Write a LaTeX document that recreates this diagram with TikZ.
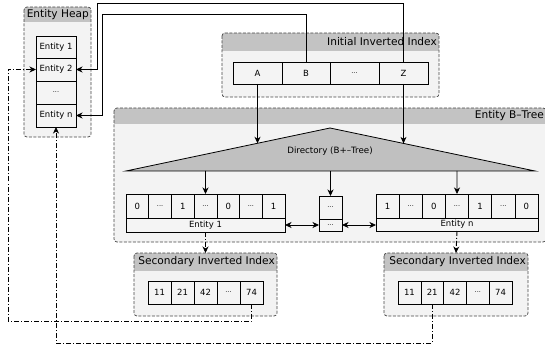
\documentclass[tikz,border=0pt]{standalone}
\usepackage{fontspec}
\setmainfont{DejaVu Sans}
\usetikzlibrary{arrows.meta}
\definecolor{bgc}{HTML}{F3F3F3}
\definecolor{hdc}{HTML}{C3C3C3}
\definecolor{cellc}{HTML}{F4F4F4}
\definecolor{bdc}{HTML}{444444}
\definecolor{tric}{HTML}{C0C0C0}
\newcommand\eld{{\fontsize{6.5}{8}\selectfont ...}}
\tikzset{
  cell/.style={draw=black, line width=0.6pt, fill=cellc, inner sep=0pt, outer sep=0pt, font=\fontsize{8.5}{10}\selectfont},
  ttl/.style={inner sep=0pt, font=\fontsize{10.6}{12}\selectfont},
  contfill/.style={fill=bgc, rounded corners=3pt, inner sep=0pt, outer sep=0pt},
  cont/.style={draw=bdc, dashed, dash pattern=on 3pt off 1.5pt, line width=0.7pt, rounded corners=3pt},
  tip/.tip={Stealth[length=6.5pt,width=6pt,inset=2pt]},
  arr/.style={draw=black, line width=0.8pt, -tip},
  arrb/.style={draw=black, line width=0.8pt, tip-tip},
  dd/.style={draw=black, line width=0.9pt, dash pattern=on 5pt off 2pt on 1pt off 2pt, -tip},
}
\newcommand\cellbox[6]{%
  \node[cell, minimum width={(#4-#2)*1pt}, minimum height={(#5-#3)*1pt}] (#1) at ({(#2+#4)/2},{(#3+#5)/2}) {#6};}
\newcommand\contbox[7]{%
  \node[contfill, minimum width={(#4-#2)*1pt}, minimum height={(#5-#3)*1pt}] (#1) at ({(#2+#4)/2},{(#3+#5)/2}) {};
  \begin{scope}
    \clip[rounded corners=3pt] (#1.north west) rectangle (#1.south east);
    \fill[hdc] (#1.north west) rectangle (#4,#6);
  \end{scope}
  \draw[cont] (#1.north west) rectangle (#1.south east);
  \node[ttl, anchor=east] (#1-t) at ({#4-2},{(#3+#6)/2}) {#7};}
\begin{document}
\begin{tikzpicture}[x=1pt, y=-1pt]
\useasboundingbox (0,0) rectangle (545,347);
% containers
\contbox{eh}{24}{7}{91}{137}{22}{Entity Heap}
\contbox{ii}{222}{33}{439}{97}{51}{Initial Inverted Index}
\contbox{bt}{114}{108}{546}{242}{124}{Entity B–Tree}
\contbox{s1}{134}{253}{277}{316}{271}{Secondary Inverted Index}
\contbox{s2}{384}{253}{528}{316}{271}{Secondary Inverted Index}
% entity heap cells
\cellbox{h1}{36}{36}{76}{58}{Entity 1}
\cellbox{h2}{36}{58}{76}{81}{Entity 2}
\cellbox{hd}{36}{81}{76}{104}{\eld}
\cellbox{hn}{36}{104}{76}{127}{Entity n}
% initial inverted index cells
\cellbox{A}{233}{62}{282}{84}{A}
\cellbox{B}{282}{62}{330}{84}{B}
\cellbox{iid}{330}{62}{379}{84}{\eld}
\cellbox{Z}{379}{62}{428}{84}{Z}
% directory triangle
\coordinate (tl) at (126,171);
\coordinate (ta) at (330,128);
\coordinate (tr) at (535,171);
\draw[fill=tric, line width=0.8pt, line join=miter] (tl) -- (ta) -- (tr) -- cycle;
\node[inner sep=0pt, font=\fontsize{8.7}{10}\selectfont] (dir) at (330,151) {Directory (B+–Tree)};
% entity 1 record
\foreach \t [count=\i from 0] in {0,\eld,1,\eld,0,\eld,1}{
  \pgfmathsetmacro\xa{126+\i*159/7}
  \pgfmathsetmacro\xb{126+(\i+1)*159/7}
  \cellbox{e1c\i}{\xa}{194}{\xb}{218}{\t}
}
\cellbox{e1l}{126}{218}{285}{232}{Entity 1}
% middle
\cellbox{mt}{319}{196}{342}{219}{\eld}
\cellbox{mb}{319}{219}{342}{231}{\eld}
% entity n record
\foreach \t [count=\i from 0] in {1,\eld,0,\eld,1,\eld,0}{
  \pgfmathsetmacro\xa{376+\i*162/7}
  \pgfmathsetmacro\xb{376+(\i+1)*162/7}
  \cellbox{enc\i}{\xa}{194}{\xb}{218}{\t}
}
\cellbox{enl}{376}{218}{538}{231}{Entity n}
% secondary cells
\foreach \t [count=\i from 0] in {11,21,42,\eld,74}{
  \pgfmathsetmacro\xa{148+\i*23}
  \pgfmathsetmacro\xb{148+(\i+1)*23}
  \cellbox{s1c\i}{\xa}{281}{\xb}{304}{\t}
}
\foreach \t [count=\i from 0] in {11,21,42,\eld,74}{
  \pgfmathsetmacro\xa{398+\i*22.8}
  \pgfmathsetmacro\xb{398+(\i+1)*22.8}
  \cellbox{s2c\i}{\xa}{281}{\xb}{304}{\t}
}
% connectors
\coordinate (dA) at (257.5,143.3);
\coordinate (dZ) at (403.5,143.4);
\draw[arr] (A.south) -- (dA);
\draw[arr] (Z.south) -- (dZ);
\coordinate (tb1) at (205.5,171);
\coordinate (tb2) at (330.5,171);
\coordinate (tb3) at (457,171);
\draw[arr] (tb1) -- (e1c3.north);
\draw[arr] (tb2) -- (mt.north);
\draw[arr] (tb3) -- (enc3.north);
\draw[arrb] (e1l.east) -- (mb.west);
\draw[arrb] (mb.east) -- (enl.west |- mb.east);
\draw[dd] (e1l.south) -- (s1.north);
\draw[dd] (enl.south) -- (s2.north);
\coordinate (q1) at (102,14);
\coordinate (q2) at (97,3);
\draw[arr] (B.north) |- (q1) |- (hn.east);
\draw[arr] (Z.north) |- (q2) |- (h2.east);
\coordinate (c1) at (8,321);
\coordinate (c2) at (56,343);
\draw[dd] (s1c4.south) |- (c1) |- (h2.west);
\draw[dd] (s2c1.south) |- (c2) -- (hn.south);
\end{tikzpicture}
\end{document}
